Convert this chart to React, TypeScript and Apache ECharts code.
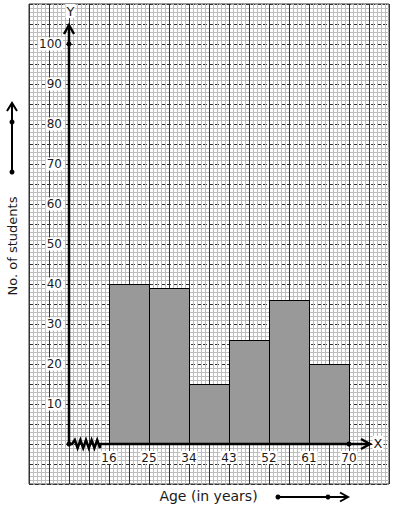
import React, { useEffect, useRef } from "react";
import * as echarts from "echarts";

const classLower = [16, 25, 34, 43, 52, 61];
const classUpper = [25, 34, 43, 52, 61, 70];
const studentCounts = [40, 39, 15, 26, 36, 20];
const xTickValues = [16, 25, 34, 43, 52, 61, 70];
const yTickValues = [10, 20, 30, 40, 50, 60, 70, 80, 90, 100];
const xAxisTitle = "Age (in years)";
const yAxisTitle = "No. of students";

const FONT = "DejaVu Sans";
const TXT = "#1a1a1a";

export default function App() {
  const ref = useRef<HTMLDivElement>(null);
  useEffect(() => {
    document.body.style.margin = "0";
    const chart = echarts.init(ref.current!, null, { renderer: "svg" });
    const barData = classLower.map((lo, i) => [lo, classUpper[i], studentCounts[i]]);

    const labelStyle = {
      fontFamily: FONT,
      fontSize: 12,
      color: TXT,
      backgroundColor: "#fff",
      padding: [1, 1, 0, 1],
    };

    const option: any = {
      animation: false,
      backgroundColor: "#fff",
      grid: {
        left: 29,
        top: 4,
        width: 360,
        height: 480,
        show: true,
        borderColor: "#333",
        borderWidth: 1,
        backgroundColor: "#fff",
      },
      xAxis: [
        {
          type: "value",
          min: -2,
          max: 79,
          position: "bottom",
          offset: -40,
          axisLine: { show: false, onZero: false },
          axisTick: { show: false },
          splitLine: { show: false },
          axisLabel: { ...labelStyle, customValues: xTickValues, margin: 7 },
        },
        {
          type: "value",
          min: 0,
          max: 18,
          interval: 1,
          position: "top",
          axisLine: { show: false },
          axisTick: { show: false },
          axisLabel: { show: false },
          splitLine: { show: true, lineStyle: { color: "#333", width: 1 } },
          minorTick: { show: false, splitNumber: 5 },
          minorSplitLine: { show: true, lineStyle: { color: "#bdbdbd", width: 1 } },
        },
      ],
      yAxis: [
        {
          type: "value",
          min: -10,
          max: 110,
          interval: 5,
          position: "left",
          offset: -40,
          axisLine: { show: false, onZero: false },
          axisTick: { show: false },
          axisLabel: { ...labelStyle, customValues: yTickValues, margin: 6 },
          splitLine: { show: true, lineStyle: { color: "#333", width: 1, type: [4, 2] } },
          minorTick: { show: false, splitNumber: 5 },
          minorSplitLine: { show: true, lineStyle: { color: "#bdbdbd", width: 1 } },
        },
      ],
      series: [
        {
          type: "custom",
          xAxisIndex: 0,
          yAxisIndex: 0,
          data: barData,
          encode: { x: [0, 1], y: 2 },
          z: 5,
          renderItem: (params: any, api: any) => {
            const p1 = api.coord([api.value(0), api.value(2)]);
            const p2 = api.coord([api.value(1), 0]);
            return {
              type: "rect",
              shape: {
                x: Math.round(p1[0]) + 0.5,
                y: Math.round(p1[1]) + 0.5,
                width: Math.round(p2[0]) - Math.round(p1[0]),
                height: Math.round(p2[1]) - Math.round(p1[1]),
              },
              style: { fill: "#999999", stroke: "#000", lineWidth: 1 },
            };
          },
        },
        {
          type: "custom",
          xAxisIndex: 0,
          yAxisIndex: 0,
          data: [[7, 0, 100, 70]],
          z: 10,
          silent: true,
          renderItem: (params: any, api: any) => {
            const o = api.coord([api.value(0), api.value(1)]);
            const top = api.coord([api.value(0), api.value(2)]);
            const end = api.coord([api.value(3), api.value(1)]);
            const ox = Math.round(o[0]);
            const oy = Math.round(o[1]);
            const tipY = oy - 419;
            const tipX = ox + 301;
            const zig: number[][] = [[ox, oy], [ox + 3, oy]];
            let x = ox + 3;
            for (let k = 0; k < 10; k++) {
              x += 2.8;
              zig.push([x, k % 2 === 0 ? oy - 4 : oy + 4]);
            }
            zig.push([ox + 31, oy]);
            zig.push([tipX, oy]);
            const blk = { stroke: "#000", fill: null as any };
            return {
              type: "group",
              children: [
                { type: "line", shape: { x1: ox, y1: oy, x2: ox, y2: tipY }, style: { ...blk, lineWidth: 2.5 } },
                { type: "polyline", shape: { points: [[ox - 5, tipY + 9], [ox, tipY], [ox + 5, tipY + 9]] }, style: { ...blk, lineWidth: 2.5 } },
                { type: "polyline", shape: { points: zig }, style: { ...blk, lineWidth: 2.5 } },
                { type: "polyline", shape: { points: [[tipX - 9, oy - 5], [tipX, oy], [tipX - 9, oy + 5]] }, style: { ...blk, lineWidth: 2.5 } },
                { type: "circle", shape: { cx: ox, cy: oy, r: 2.5 }, style: { fill: "#000" } },
                { type: "circle", shape: { cx: ox, cy: Math.round(top[1]), r: 2.5 }, style: { fill: "#000" } },
                { type: "circle", shape: { cx: Math.round(end[0]), cy: oy, r: 2.5 }, style: { fill: "#000" } },
                {
                  type: "text",
                  x: ox + 1.5,
                  y: tipY - 14,
                  style: { text: "Y", fontFamily: FONT, fontSize: 13, fill: TXT, align: "center", verticalAlign: "middle", backgroundColor: "#fff", padding: [1, 1, 0, 1] },
                },
                {
                  type: "text",
                  x: tipX + 8,
                  y: oy - 1,
                  style: { text: "X", fontFamily: FONT, fontSize: 13, fill: TXT, align: "center", verticalAlign: "middle", backgroundColor: "#fff", padding: [1, 1, 0, 1] },
                },
              ],
            };
          },
        },
      ],
      graphic: [
        {
          type: "text",
          x: 208.5,
          y: 496,
          style: { text: xAxisTitle, fontFamily: FONT, fontSize: 14, fill: TXT, align: "center", verticalAlign: "middle" },
        },
        {
          type: "text",
          x: 12,
          y: 246,
          rotation: Math.PI / 2,
          style: { text: yAxisTitle, fontFamily: FONT, fontSize: 13, fill: TXT, align: "center", verticalAlign: "middle" },
        },
        { type: "line", shape: { x1: 12, y1: 172, x2: 12, y2: 103 }, style: { stroke: "#000", lineWidth: 2 } },
        { type: "polyline", shape: { points: [[7, 111], [12, 103], [17, 111]] }, style: { stroke: "#000", lineWidth: 2, fill: null } },
        { type: "circle", shape: { cx: 12, cy: 122, r: 2.5 }, style: { fill: "#000" } },
        { type: "circle", shape: { cx: 12, cy: 172, r: 2.5 }, style: { fill: "#000" } },
        { type: "line", shape: { x1: 278, y1: 497, x2: 348, y2: 497 }, style: { stroke: "#000", lineWidth: 2 } },
        { type: "polyline", shape: { points: [[340, 492.5], [348, 497], [340, 501.5]] }, style: { stroke: "#000", lineWidth: 2, fill: null } },
        { type: "circle", shape: { cx: 278, cy: 497, r: 2.5 }, style: { fill: "#000" } },
        { type: "circle", shape: { cx: 328, cy: 497, r: 2.5 }, style: { fill: "#000" } },
      ],
    };
    chart.setOption(option);
    return () => chart.dispose();
  }, []);
  return <div ref={ref} style={{ width: 394, height: 510 }} />;
}
